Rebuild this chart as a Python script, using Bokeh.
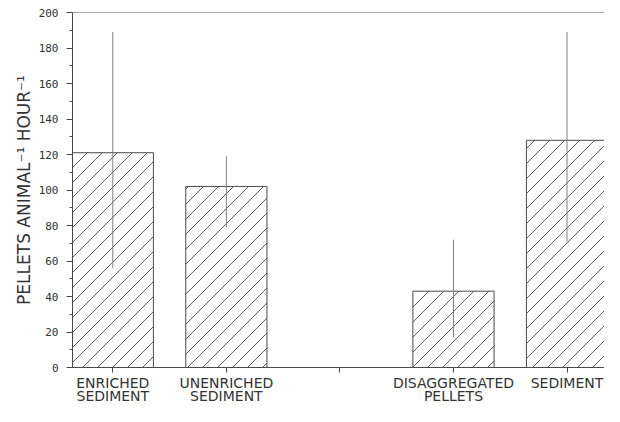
import base64
from bokeh.plotting import figure
from bokeh.models import FixedTicker, Span, Range1d, LinearAxis, ImageURLTexture
from bokeh.core.properties import value
from bokeh.embed import file_html
from bokeh.resources import INLINE

positions = [1, 2, 3, 4, 5]
labels_line1 = ["ENRICHED", "UNENRICHED", "", "DISAGGREGATED", "SEDIMENT"]
labels_line2 = ["SEDIMENT", "SEDIMENT", "", "PELLETS", ""]
bar_pos = [1, 2, 4, 5]
means = [121, 102, 43, 128]
err_low = [56, 79, 17, 71]
err_high = [189, 119, 72, 189]
y_ticks = [0, 20, 40, 60, 80, 100, 120, 140, 160, 180, 200]

ink = "#4a4a4a"
text_col = "#333333"

# 45-degree hatch tile (style only)
tile_svg = ('<svg xmlns="http://www.w3.org/2000/svg" width="15" height="15">'
            '<path d="M0 15L15 0M-2 2L2 -2M13 17L17 13" stroke="#4a4a4a" '
            'stroke-width="0.9" fill="none"/></svg>')
tile_url = "data:image/svg+xml;base64," + base64.b64encode(tile_svg.encode()).decode()
diag = ImageURLTexture(url=tile_url)

p = figure(width=604, height=406, output_backend="svg", toolbar_location=None,
           x_range=Range1d(0.645, 5.33), y_range=Range1d(0, 200),
           min_border_left=72, min_border_right=0, min_border_top=12, min_border_bottom=30)

p.vbar(x=bar_pos, top=means, width=0.715, fill_color="white", line_color=ink, line_width=1,
       hatch_pattern=value("diag"), hatch_extra={"diag": diag})
p.segment(x0=bar_pos, y0=err_low, x1=bar_pos, y1=err_high, line_color="#808080", line_width=1)

p.add_layout(Span(location=200, dimension="width", line_color=ink, line_width=1))

p.xgrid.visible = False
p.ygrid.visible = False
p.outline_line_color = None
p.background_fill_color = "white"

label_font = "DejaVu Sans"
label_size = "14px"

xa = p.xaxis[0]
xa.ticker = FixedTicker(ticks=positions)
xa.major_label_overrides = {pos: lab for pos, lab in zip(positions, labels_line1)}
xa.major_label_text_font = label_font
xa.major_label_text_font_size = label_size
xa.major_label_text_color = text_col
xa.major_label_standoff = 2
xa.major_tick_out = 5
xa.major_tick_in = 0
xa.minor_tick_line_color = None
xa.axis_line_color = ink
xa.major_tick_line_color = ink

xa2 = LinearAxis(ticker=FixedTicker(ticks=positions),
                 major_label_overrides={pos: lab for pos, lab in zip(positions, labels_line2)},
                 major_label_text_font=label_font, major_label_text_font_size=label_size,
                 major_label_text_color=text_col, major_label_standoff=-6,
                 major_tick_out=0, major_tick_in=0, major_tick_line_color=None,
                 minor_tick_line_color=None, axis_line_color=None)
p.add_layout(xa2, "below")

ya = p.yaxis[0]
ya.ticker = FixedTicker(ticks=y_ticks, minor_ticks=list(range(0, 201, 10)))
ya.major_label_text_font = "DejaVu Sans Mono"
ya.major_label_text_font_size = "11px"
ya.major_label_text_color = text_col
ya.major_label_standoff = 8
ya.major_tick_out = 6
ya.major_tick_in = 0
ya.minor_tick_out = 3
ya.minor_tick_in = 0
ya.axis_line_color = ink
ya.major_tick_line_color = ink
ya.minor_tick_line_color = ink
ya.axis_label = "PELLETS ANIMAL\u207b\u00b9 HOUR\u207b\u00b9"
ya.axis_label_text_font = "DejaVu Sans"
ya.axis_label_text_font_style = "normal"
ya.axis_label_text_font_size = "17px"
ya.axis_label_text_color = text_col
ya.axis_label_standoff = 2

open("out.html", "w").write(file_html(p, INLINE))
